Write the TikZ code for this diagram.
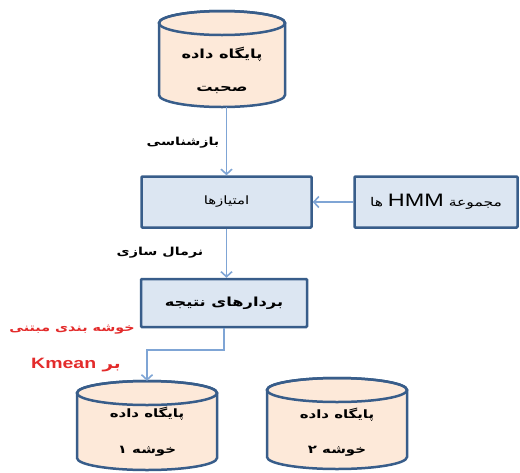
\documentclass[tikz,border=0pt]{standalone}
\usepackage{fontspec}
\usetikzlibrary{arrows.meta}
\TeXXeTstate=1
\newfontfamily\fa[Script=Arabic, FakeStretch=1.3]{DejaVu Sans}
\newfontfamily\la[FakeStretch=1.3]{Liberation Sans}
\definecolor{boxfill}{HTML}{DCE6F2}
\definecolor{edgeblue}{HTML}{385D8A}
\definecolor{cylfill}{HTML}{FDE9D9}
\definecolor{arrblue}{HTML}{7FA5D5}
\definecolor{redlab}{HTML}{E32B2B}
\tikzset{
  procbox/.style={draw=edgeblue, line width=2.5pt, fill=boxfill, rounded corners=1pt, inner sep=0pt,
    font=\fa\fontsize{11.5}{14}\selectfont},
  cylbody/.style={draw=edgeblue, line width=2.5pt, fill=cylfill},
  cylrim/.style={draw=edgeblue, line width=2.5pt},
  flow/.style={draw=arrblue, line width=1.6pt, -{Straight Barb[length=5pt,width=11pt]}},
  steplab/.style={font=\fa\bfseries\fontsize{11}{13}\selectfont, inner sep=0pt},
  redlabel/.style={steplab, text=redlab},
  cyltext/.style={font=\fa\bfseries\fontsize{12.5}{14}\selectfont, inner sep=0pt},
  cyltextsm/.style={font=\fa\bfseries\fontsize{11.5}{14}\selectfont, inner sep=0pt},
}
\newcommand\dbcyl[5]{%
  \pgfmathsetmacro\cL{#2-#5}\pgfmathsetmacro\cR{#2+#5}%
  \pgfmathsetmacro\cT{-(#3)-12}\pgfmathsetmacro\cB{-(#4)+12}%
  \pgfmathsetmacro\cW{2*#5}\pgfmathsetmacro\cH{#4-#3}\pgfmathsetmacro\cY{-(#3+#4)/2}%
  \path[cylbody] (\cL,\cT) -- (\cL,\cB) arc[start angle=180,end angle=360,x radius=#5,y radius=12]
     -- (\cR,\cT) arc[start angle=0,end angle=180,x radius=#5,y radius=12] -- cycle;
  \path[cylrim] (#2,\cT) ellipse[x radius=#5,y radius=12];
  \node[inner sep=0pt, minimum width=\cW pt, minimum height=\cH pt] (#1) at (#2,\cY) {};
}
\begin{document}
\begin{tikzpicture}[x=1pt,y=1pt]
\useasboundingbox (0,0) rectangle (520,-472);

% databases
\dbcyl{dbA}{222}{11}{107}{63}
\node[cyltext] (dbAa) at (222,-54) {\beginR پایگاه داده\endR};
\node[cyltext] (dbAb) at (222,-90) {\beginR صحبت\endR};

\dbcyl{dbB}{147}{381}{470}{70}
\node[cyltextsm] (dbBa) at (147,-414) {\beginR پایگاه داده\endR};
\node[cyltextsm] (dbBb) at (147,-451) {\beginR خوشه ۱\endR};

\dbcyl{dbC}{337}{378}{469}{70}
\node[cyltextsm] (dbCa) at (337,-415) {\beginR پایگاه داده\endR};
\node[cyltextsm] (dbCb) at (337,-451) {\beginR خوشه ۲\endR};

% process boxes
\node[procbox, minimum width=170pt, minimum height=51pt] (imt) at (226.5,-202) {\beginR امتیازها\endR};
\node[procbox, minimum width=163pt, minimum height=51pt, font=\fa\fontsize{12}{15}\selectfont] (hmm) at (436,-202)
  {\beginR مجموعة \beginL{\la\fontsize{18}{18}\selectfont HMM}\endL{} ها\endR};
\node[procbox, minimum width=166pt, minimum height=48pt, font=\fa\bfseries\fontsize{12.5}{15}\selectfont] (vec) at (224,-303) {\beginR بردارهای نتیجه\endR};

% connectors
\draw[flow] (imt.north |- dbA.south) -- (imt.north);
\draw[flow] (hmm.west) -- (imt.east);
\draw[flow] (imt.south) -- (imt.south |- vec.north);
\draw[flow] (vec.south) -- ++(0,-22) -| (dbB.north);

% labels
\node[steplab] (lblA) at (183,-143) {\beginR بازشناسی\endR};
\node[steplab] (lblB) at (160,-253) {\beginR نرمال سازی\endR};
\node[redlabel] (lblC) at (72,-330) {\beginR خوشه بندی مبتنی\endR};
\node[redlabel, font=\fa\bfseries\fontsize{14}{15}\selectfont] (lblD) at (76,-365) {\beginR بر \beginL{\la\bfseries\fontsize{15}{15}\selectfont Kmean}\endL\endR};
\end{tikzpicture}
\end{document}
